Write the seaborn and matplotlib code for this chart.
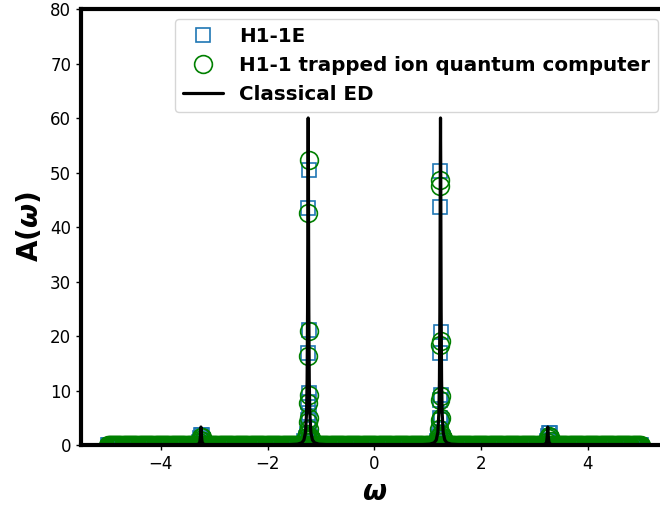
import numpy as np
import pandas as pd
import matplotlib
matplotlib.use("Agg")
import matplotlib.pyplot as plt
import seaborn as sns

# ---------------- data ----------------
# dense sampling grid of the measured spectra (omega from -5 to 5)
grid_omega = np.round(np.linspace(-5.0, 5.0, 501), 3)
# off-resonance spectral weight read as ~0 everywhere on the grid
grid_A_h1e = [0.0] * len(grid_omega)
grid_A_h11 = [0.0] * len(grid_omega)

# resonant points of the H1-1E emulator (squares)
h1e_omega = [-3.29, -3.27, -3.25, -3.23, -3.21,
             -1.31, -1.29, -1.27, -1.255, -1.25, -1.245, -1.24, -1.237, -1.234,
             -1.231, -1.228, -1.225, -1.22, -1.21, -1.19, -1.17,
             1.17, 1.19, 1.21, 1.22, 1.225, 1.228, 1.231, 1.234, 1.237,
             1.24, 1.245, 1.25, 1.255, 1.27, 1.29, 1.31,
             3.23, 3.25, 3.27, 3.29, 3.31]
h1e_A = [0.6, 1.3, 1.8, 1.8, 0.9,
         0.8, 1.2, 1.4, 2.0, 4.6, 7.9, 16.9, 43.5, 50.5,
         21.1, 9.5, 5.8, 3.0, 1.4, 1.2, 0.8,
         0.8, 1.2, 1.4, 3.0, 5.0, 8.3, 16.9, 43.7, 50.3,
         20.7, 9.2, 4.6, 2.0, 1.4, 1.2, 0.8,
         0.8, 1.6, 2.2, 2.2, 1.0]

# resonant points of the H1-1 trapped ion quantum computer (circles)
h11_omega = [-3.29, -3.27, -3.25, -3.23, -3.21,
             -1.31, -1.29, -1.27, -1.255, -1.25, -1.245, -1.24, -1.237, -1.234,
             -1.231, -1.228, -1.225, -1.22, -1.21, -1.19, -1.17,
             1.17, 1.19, 1.21, 1.22, 1.225, 1.228, 1.231, 1.234, 1.237,
             1.24, 1.245, 1.25, 1.255, 1.27, 1.29, 1.31,
             3.23, 3.25, 3.27, 3.29, 3.31]
h11_A = [0.5, 1.0, 1.4, 1.4, 0.8,
         0.8, 1.2, 1.4, 2.0, 4.3, 7.7, 16.3, 42.6, 52.3,
         20.9, 9.2, 5.0, 3.0, 1.4, 1.2, 0.8,
         0.8, 1.2, 1.4, 3.0, 4.6, 8.3, 18.3, 47.6, 48.6,
         19.1, 8.9, 5.0, 2.0, 1.4, 1.2, 0.8,
         0.6, 1.2, 1.6, 1.5, 0.8]

# classical exact diagonalisation curve
ed_omega = [-5.0, -4.0, -3.5, -3.35, -3.30, -3.28, -3.27, -3.262, -3.258, -3.254,
            -3.25, -3.246, -3.242, -3.238, -3.23, -3.22, -3.20, -3.15, -3.0, -2.5,
            -2.0, -1.64, -1.44, -1.36, -1.32, -1.29, -1.27, -1.26, -1.252, -1.248,
            -1.244, -1.24, -1.236, -1.232, -1.228, -1.22, -1.21, -1.19, -1.16, -1.12,
            -1.04, -0.84, -0.5, 0.0,
            0.5, 0.84, 1.04, 1.12, 1.16, 1.19, 1.21, 1.22, 1.228, 1.232,
            1.236, 1.24, 1.244, 1.248, 1.252, 1.26, 1.27, 1.29, 1.32, 1.36,
            1.44, 1.64, 2.0, 2.5, 3.0, 3.15, 3.20, 3.22, 3.23, 3.238,
            3.242, 3.246, 3.25, 3.254, 3.258, 3.262, 3.27, 3.28, 3.30, 3.35,
            3.5, 4.0, 5.0]
ed_A = [0.004, 0.006, 0.01, 0.03, 0.13, 0.33, 0.66, 1.35, 2.01, 2.84,
        3.3, 2.84, 2.01, 1.35, 0.66, 0.33, 0.13, 0.04, 0.02, 0.03,
        0.06, 0.037, 0.15, 0.41, 0.92, 2.31, 6.0, 12.0, 24.6, 36.6,
        51.7, 60.0, 51.7, 36.6, 24.6, 12.0, 6.0, 2.31, 0.92, 0.41,
        0.15, 0.037, 0.02, 0.016,
        0.02, 0.037, 0.15, 0.41, 0.92, 2.31, 6.0, 12.0, 24.6, 36.6,
        51.7, 60.0, 51.7, 36.6, 24.6, 12.0, 6.0, 2.31, 0.92, 0.41,
        0.15, 0.037, 0.06, 0.03, 0.02, 0.04, 0.13, 0.33, 0.66, 1.35,
        2.01, 2.84, 3.3, 2.84, 2.01, 1.35, 0.66, 0.33, 0.13, 0.03,
        0.01, 0.006, 0.004]

x_ticks = [-4, -2, 0, 2, 4]
y_ticks = [0, 10, 20, 30, 40, 50, 60, 70, 80]

# ---------------- tables ----------------
df_h1e = pd.DataFrame({"omega": list(grid_omega) + h1e_omega,
                       "A": grid_A_h1e + h1e_A})
df_h11 = pd.DataFrame({"omega": list(grid_omega) + h11_omega,
                       "A": grid_A_h11 + h11_A})
df_ed = pd.DataFrame({"omega": ed_omega, "A": ed_A})

# ---------------- plot ----------------
sns.set_style("ticks", {"axes.edgecolor": "black", "xtick.color": "black",
                        "ytick.color": "black", "text.color": "black",
                        "axes.labelcolor": "black"})
plt.rcParams["font.family"] = ["DejaVu Sans"]
plt.rcParams["mathtext.fontset"] = "dejavusans"

fig = plt.figure(figsize=(6.6, 5.11), dpi=100)
ax = fig.add_axes([80.9 / 660, 1 - 445 / 511, 586.9 / 660, 436 / 511])

sns.lineplot(data=df_h1e, x="omega", y="A", ax=ax, estimator=None, sort=False,
             linestyle="", marker="s", markersize=10.5, markerfacecolor="none",
             markeredgecolor="#1f77b4", markeredgewidth=1.2, label="H1-1E")
sns.lineplot(data=df_h11, x="omega", y="A", ax=ax, estimator=None, sort=False,
             linestyle="", marker="o", markersize=12.8, markerfacecolor="none",
             markeredgecolor="green", markeredgewidth=1.2,
             label="H1-1 trapped ion quantum computer")
sns.lineplot(data=df_ed, x="omega", y="A", ax=ax, estimator=None, sort=False,
             color="black", linewidth=2.3, label="Classical ED")

ax.set_xlim(-5.5, 5.5)
ax.set_ylim(0, 80)
ax.set_xticks(x_ticks)
ax.set_yticks(y_ticks)
ax.tick_params(labelsize=12, length=3.5, width=1)
for s in ax.spines.values():
    s.set_linewidth(3)
    s.set_visible(True)

ax.set_xlabel(r"$\boldsymbol{\omega}$", fontsize=20)
ax.set_ylabel(r"$\mathbf{A(}\boldsymbol{\omega}\mathbf{)}$", fontsize=20)

leg = ax.legend(loc="upper right", prop={"weight": "bold", "size": 14.3})

fig.savefig("out.png", dpi=100)
